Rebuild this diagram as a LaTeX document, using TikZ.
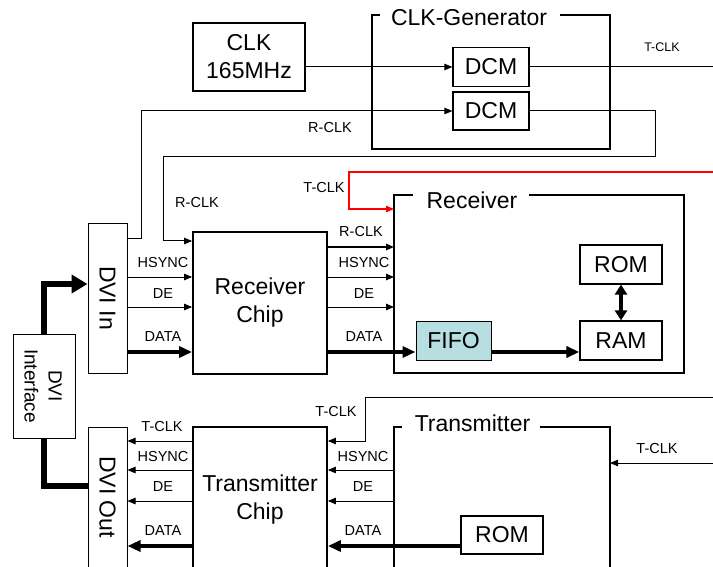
\documentclass[tikz,border=0pt]{standalone}
\usepackage{fontspec}
\setmainfont{Liberation Sans}
\usetikzlibrary{arrows.meta}
\newcommand{\bigtxt}{\fontsize{23}{28}\selectfont}
\newcommand{\midtxt}{\fontsize{19}{24}\selectfont}
\newcommand{\smalltxt}{\fontsize{14.5}{17}\selectfont}
\newcommand{\tinytxt}{\fontsize{12.5}{14}\selectfont}
\definecolor{fifofill}{HTML}{B7DEE0}
\tikzset{
  box/.style={draw, line width=1.2pt, inner sep=0pt, font=\bigtxt, align=center},
  chipbox/.style={draw, line width=1.8pt, inner sep=0pt, font=\bigtxt, align=center},
  frame/.style={line width=1.6pt},
  sig/.style={line width=1pt, -{Triangle[length=8pt,width=6.5pt]}},
  plain/.style={line width=1pt},
  datasig/.style={line width=4pt, -{Triangle[length=13pt,width=11pt]}},
  lbl/.style={font=\smalltxt, inner sep=0pt},
  ttl/.style={font=\bigtxt, inner sep=0pt},
}
\begin{document}
\begin{tikzpicture}[x=1pt,y=-1pt]
\useasboundingbox (0,0) rectangle (713,567);
\clip (0,0) rectangle (713,567);

% ---------- CLK generator ----------
\node[box, minimum width=112pt, minimum height=68pt] (clk) at (249,57) {CLK\\165MHz};
\node[box, minimum width=76pt, minimum height=39pt] (dcm1) at (491,67) {DCM};
\node[box, minimum width=76pt, minimum height=38pt] (dcm2) at (491,111) {DCM};
\draw[frame] (380,15) -- (372,15) -- (372,149) -- (610,149) -- (610,15) -- (560,15);
\node[ttl] (cgtitle) at (469,18) {CLK-Generator};

\coordinate (tclkout) at (713,67);
\draw[sig] (clk.east |- dcm1.west) -- (dcm1.west);
\draw[plain] (dcm1.east) -- (tclkout);
\node[font=\tinytxt, inner sep=0pt] (tclklbl1) at (662,47) {T-CLK};

% ---------- DVI side ----------
\node[draw, line width=1pt, minimum width=39pt, minimum height=149pt, inner sep=0pt] (dviin) at (107.5,298.5) {};
\node[rotate=-90, font=\bigtxt, inner sep=0pt] (dviintxt) at (107.5,298) {DVI In};
\node[draw, line width=1pt, minimum width=39pt, minimum height=145pt, inner sep=0pt] (dviout) at (107.5,499.5) {};
\node[rotate=-90, font=\bigtxt, inner sep=0pt] (dviouttxt) at (107.5,497) {DVI Out};
\node[draw, line width=1pt, minimum width=62pt, minimum height=104pt, inner sep=0pt] (dviif) at (44,386) {};
\node[rotate=-90, font=\midtxt, align=center, inner sep=0pt] (dviiftxt) at (43,386) {DVI\\Interface};

\draw[line width=5.5pt, -{Triangle[length=16pt,width=18pt]}] (dviif.north) -- (44,284) -- (dviin.west |- 0,284);
\draw[line width=5.5pt] (dviif.south) -- (44,486) -- (dviout.west |- 0,486);

% ---------- Receiver chip ----------
\node[chipbox, minimum width=134pt, minimum height=142pt] (rchip) at (260,303) {Receiver\\Chip};

% R-CLK to DCM2
\draw[sig] (dviin.east |- 0,239) -- (141,239) -- (141,111) -- (dcm2.west);
\node[lbl] (rclklbl1) at (330,128) {R-CLK};
% DCM2 output back to receiver chip
\draw[sig] (dcm2.east) -- (655,111) -- (655,157) -- (163,157) -- (163,241) -- (rchip.west |- 0,241);
\node[lbl] (rclklbl2) at (197,203) {R-CLK};

\draw[sig] (dviin.east |- 0,277) -- (rchip.west |- 0,277);
\draw[sig] (dviin.east |- 0,307) -- (rchip.west |- 0,307);
\draw[datasig] (dviin.east |- 0,352) -- (rchip.west |- 0,352);
\node[lbl] (l1) at (163,263) {HSYNC};
\node[lbl] (l2) at (163,294) {DE};
\node[lbl] (l3) at (163,337) {DATA};

% ---------- Receiver ----------
\draw[frame] (413,195) -- (394,195) -- (394,373) -- (684,373) -- (684,195) -- (529,195);
\node[ttl] (rtitle) at (472,200) {Receiver};
\node[box, fill=fifofill, line width=1pt, minimum width=75pt, minimum height=39pt] (fifo) at (453.5,340.5) {FIFO};
\node[box, minimum width=82pt, minimum height=39pt] (ram) at (621,340.5) {RAM};
\node[box, minimum width=82pt, minimum height=39pt] (rom1) at (621,264.5) {ROM};
\coordinate (rxin) at (394,247);

\draw[line width=1.5pt, -{Triangle[length=8pt,width=6.5pt]}] (rchip.east |- 0,247) -- (rxin);
\draw[sig] (rchip.east |- 0,277) -- (394,277);
\draw[sig] (rchip.east |- 0,307) -- (394,307);
\draw[datasig] (rchip.east |- 0,352) -- (fifo.west |- 0,352);
\draw[datasig] (fifo.east |- 0,352) -- (ram.west |- 0,352);
\draw[line width=4pt, {Triangle[length=10pt,width=12pt]}-{Triangle[length=10pt,width=12pt]}] (rom1.south) -- (ram.north);
\node[lbl] (r1) at (361,232) {R-CLK};
\node[lbl] (r2) at (364,263) {HSYNC};
\node[lbl] (r3) at (364,294) {DE};
\node[lbl] (r4) at (364,337) {DATA};

% red T-CLK
\coordinate (redin) at (713,172);
\draw[red, line width=1.3pt, -{Triangle[length=8pt,width=6.5pt]}] (redin) -- (349,172) -- (349,209) -- (394,209);
\node[lbl] (tclklbl2) at (324,188) {T-CLK};

% ---------- Transmitter chip ----------
\node[chipbox, minimum width=134pt, minimum height=145pt] (tchip) at (260,499.5) {Transmitter\\Chip};
\draw[sig] (tchip.west |- 0,441) -- (dviout.east |- 0,441);
\draw[sig] (tchip.west |- 0,470) -- (dviout.east |- 0,470);
\draw[sig] (tchip.west |- 0,501) -- (dviout.east |- 0,501);
\draw[datasig] (tchip.west |- 0,546) -- (dviout.east |- 0,546);
\node[lbl] (t1) at (162,427) {T-CLK};
\node[lbl] (t2) at (163,457) {HSYNC};
\node[lbl] (t3) at (163,487) {DE};
\node[lbl] (t4) at (163,531) {DATA};

% ---------- Transmitter ----------
\draw[frame] (402,427) -- (394,427) -- (394,575);
\draw[frame] (610,575) -- (610,427) -- (540,427);
\node[ttl] (ttitle) at (472.5,423) {Transmitter};
\node[box, minimum width=82pt, minimum height=38pt] (rom2) at (502,535) {ROM};

\coordinate (tclkin2) at (713,397);
\draw[sig] (tclkin2) -- (365,397) -- (365,441) -- (tchip.east |- 0,441);
\node[lbl] (tclklbl3) at (336,412) {T-CLK};
\draw[sig] (394,470) -- (tchip.east |- 0,470);
\draw[sig] (394,501) -- (tchip.east |- 0,501);
\draw[datasig] (rom2.west |- 0,546) -- (tchip.east |- 0,546);
\node[lbl] (s2) at (363,457) {HSYNC};
\node[lbl] (s3) at (363,487) {DE};
\node[lbl] (s4) at (363,531) {DATA};

\coordinate (tclkin3) at (713,463);
\draw[sig] (tclkin3) -- (610,463);
\node[lbl] (tclklbl4) at (657,449) {T-CLK};
\end{tikzpicture}
\end{document}
